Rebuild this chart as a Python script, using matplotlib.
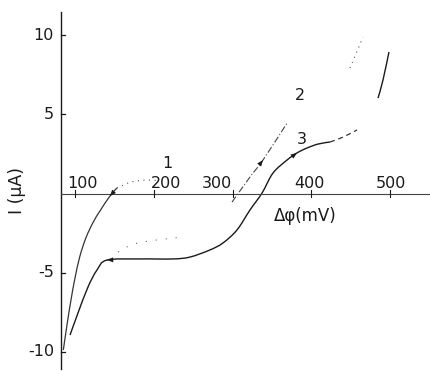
import matplotlib
matplotlib.use("Agg")
import matplotlib.pyplot as plt
from matplotlib.path import Path
from matplotlib.patches import PathPatch
import numpy as np

# Curve 1: steep cathodic branch rising to near-zero current
c1_mv = [85.2, 89.8, 94.9, 100.0, 106.3, 114.0, 122.9, 131.7, 144.4, 153.3]
c1_ua = [-9.87, -8.30, -6.72, -5.33, -3.94, -2.78, -1.83, -1.10, -0.16, 0.35]
c1_tail_mv = [153.3, 172.0, 191.0, 208.0]
c1_tail_ua = [0.35, 0.73, 0.85, 0.80]

# Curve 2: faint plateau, then rising branch
c2_plateau_mv = [154.6, 180.0, 237.0]
c2_plateau_ua = [-3.69, -3.12, -2.74]
c2_rise_mv = [299.4, 322.2, 338.7, 369.2]
c2_rise_ua = [-0.54, 1.04, 2.11, 4.44]
c2_top_mv = [449.2, 465.7]
c2_top_ua = [7.92, 9.87]

# Curve 3: plateau near -4 uA, wave crossing zero, then steep rise
c3_mv = [93.7, 103.8, 116.5, 127.9, 140.6, 182.5, 224.4, 246.0, 271.4,
         287.9, 305.7, 322.2, 337.5, 351.4, 369.2, 381.9, 394.6, 408.6, 423.8]
c3_ua = [-8.93, -7.54, -5.90, -4.83, -4.20, -4.13, -4.13, -4.01, -3.56,
         -3.12, -2.30, -1.04, 0.03, 1.29, 2.11, 2.56, 2.87, 3.12, 3.25]
c3_dash_mv = [423.8, 440.0, 458.1]
c3_dash_ua = [3.25, 3.55, 4.01]
c3_end_mv = [484.8, 491.1, 498.7]
c3_end_ua = [6.02, 7.16, 8.93]

x_ticks = [100, 200, 300, 400, 500]
x_tick_labels = ["100", "200", "300", "400", "500"]
x_label_pos = [109.5, 215.6, 279.7, 397.1, 501.3]
y_ticks = [10, 5, -5, -10]
y_tick_labels = ["10", "5", "-5", "-10"]

W, H = 431, 371
fig = plt.figure(figsize=(W / 100, H / 100), dpi=100)
ax = fig.add_axes([0, 0, 1, 1])
ax.set_xlim(4.76, 552.06)
ax.set_ylim(-11.20, 12.21)
ax.axis("off")

ink = "#1a1a1a"
x0 = 82.2  # potential at which the current axis is drawn


def smooth(xs, ys, **kw):
    """Draw a smooth curve through the points (Catmull-Rom as cubic Beziers)."""
    pts = ax.transData.transform(np.column_stack([xs, ys]))
    n = len(pts)
    verts = [pts[0]]
    codes = [Path.MOVETO]
    for i in range(n - 1):
        p0 = pts[i - 1] if i > 0 else pts[i]
        p1 = pts[i]
        p2 = pts[i + 1]
        p3 = pts[i + 2] if i + 2 < n else pts[i + 1]
        c1 = p1 + (p2 - p0) / 6.0
        c2 = p2 - (p3 - p1) / 6.0
        verts += [c1, c2, p2]
        codes += [Path.CURVE4] * 3
    verts = ax.transData.inverted().transform(np.array(verts))
    ax.add_patch(PathPatch(Path(verts, codes), fill=False, **kw))


# axes
ax.plot([x0, x0], [-11.07, 11.45], color=ink, lw=1.0)
ax.plot([x0, 552], [0, 0], color="#444444", lw=0.8)

# ticks
for yt in y_ticks:
    ax.plot([x0, x0 + 5], [yt, yt], color=ink, lw=0.9)
for xt in x_ticks:
    ax.plot([xt, xt], [-0.2, 0.2], color=ink, lw=0.8)

fs = 11.5
for yt, lab in zip(y_ticks, y_tick_labels):
    ax.text(73.3, yt, lab, ha="right", va="center", fontsize=fs, color=ink)
for xp, lab in zip(x_label_pos, x_tick_labels):
    ax.text(xp, 0.62, lab, ha="center", va="center", fontsize=fs, color=ink)

ax.text(392, -1.44, "\u0394\u03c6(mV)", ha="center", va="center", fontsize=12, color=ink)
ax.text(26.3, 0.16, "I (\u03bcA)", ha="center", va="center", rotation=90,
        fontsize=12.5, color=ink)

# curve labels
ax.text(216.8, 1.92, "1", ha="center", va="center", fontsize=fs, color=ink)
ax.text(385.7, 6.21, "2", ha="center", va="center", fontsize=fs, color=ink)
ax.text(388.3, 3.38, "3", ha="center", va="center", fontsize=fs, color=ink)

# curve 1
smooth(c1_mv, c1_ua, edgecolor="#333333", lw=0.9)
smooth(c1_tail_mv, c1_tail_ua, edgecolor="#555555", lw=0.8, ls=(0, (1, 4)))

# curve 2
smooth(c2_plateau_mv, c2_plateau_ua, edgecolor="#666666", lw=0.8, ls=(0, (1, 8)))
smooth(c2_rise_mv, c2_rise_ua, edgecolor="#444444", lw=0.8, ls=(0, (6, 2, 1, 2)))
smooth(c2_top_mv, c2_top_ua, edgecolor="#555555", lw=0.8, ls=(0, (1, 4)))

# curve 3
smooth(c3_mv, c3_ua, edgecolor=ink, lw=1.0)
smooth(c3_dash_mv, c3_dash_ua, edgecolor="#333333", lw=0.9, ls=(0, (4, 3)))
smooth(c3_end_mv, c3_end_ua, edgecolor=ink, lw=1.0)


# sweep-direction arrowheads
def arrow(xs, ys, i, j):
    ax.annotate("", xy=(xs[j], ys[j]), xytext=(xs[i], ys[i]),
                arrowprops=dict(arrowstyle="-|>,head_length=0.45,head_width=0.18",
                                color=ink, lw=0.0, shrinkA=0, shrinkB=0))


arrow(c3_mv, c3_ua, 5, 4)
arrow(c3_mv, c3_ua, 14, 15)
arrow(c2_rise_mv, c2_rise_ua, 1, 2)
arrow(c1_mv, c1_ua, 9, 8)

fig.savefig("out.png", dpi=100)
